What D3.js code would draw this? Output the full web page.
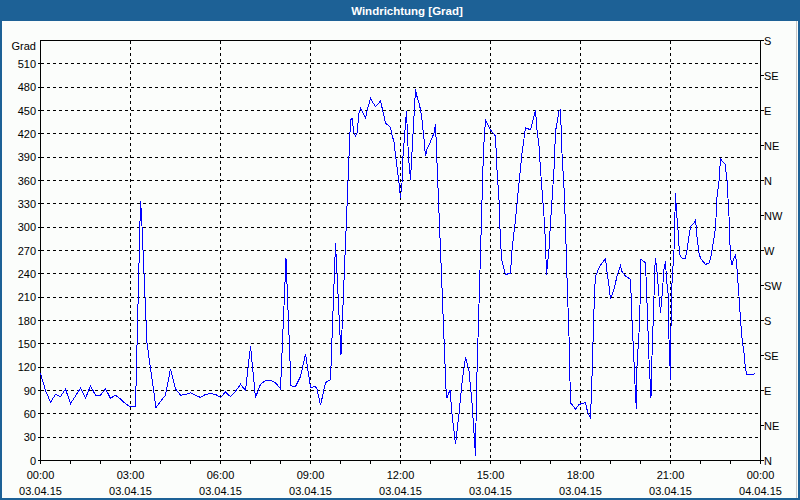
<!DOCTYPE html>
<html><head><meta charset="utf-8">
<script src="https://cdn.jsdelivr.net/npm/d3@7"></script>
<style>
html,body{margin:0;padding:0;background:#fff;}
svg{display:block;}
text{font-family:"Liberation Sans",Arial,sans-serif;font-size:11px;fill:#000;}
</style></head>
<body>
<svg id="chart" width="800" height="500"></svg>
<script>
const title = "Windrichtung [Grad]";
const yUnit = "Grad";
const minutes = [0,10,20,30,40,50,60,70,80,90,100,110,120,130,140,150,160,170,180,190,
200,202,213,231,240,250,260,270,280,290,300,310,320,330,340,350,360,370,380,390,
400,410,420,430,440,450,460,470,480,491,501,510,520,530,540,550,553,560,570,580,
590,601,620,623,627,630,633,637,640,650,653,660,663,670,677,680,687,690,697,700,
703,707,710,713,717,720,723,725,729,732,735,737,740,743,747,750,753,757,760,763,
767,770,773,780,787,790,811,813,819,823,830,837,843,850,857,863,870,872,879,886,
890,900,910,913,917,920,923,930,940,943,950,957,963,970,980,987,990,993,997,1000,
1007,1010,1012,1017,1020,1027,1030,1037,1040,1043,1047,1050,1053,1057,1060,1063,1070,1077,1087,1090,
1094,1100,1103,1108,1110,1113,1117,1123,1130,1133,1137,1140,1147,1153,1160,1163,1170,1180,1183,1188,
1190,1192,1193,1197,1199,1201,1210,1213,1217,1221,1223,1227,1228,1230,1233,1237,1240,1243,1247,1250,
1252,1255,1257,1260,1261,1263,1267,1270,1272,1275,1278,1283,1290,1293,1300,1307,1310,1313,1317,1320,
1330,1337,1340,1343,1347,1350,1353,1357,1360,1363,1369,1373,1377,1380,1383,1387,1390,1393,1397,1400,
1403,1407,1410,1413,1420,1427,1430];
const degrees = [112,90,75,85,82,92,73,83,93,80,96,84,84,92,80,84,79,73,69,69,
333,316,151,68,76,84,118,92,84,85,87,84,81,85,86,85,81,88,82,89,
98,90,147,81,98,103,103,100,92,260,96,95,108,137,94,95,92,71,100,104,
279,136,438,440,421,417,421,447,453,440,449,466,462,455,460,462,443,434,430,428,
419,409,393,378,357,338,357,391,425,449,404,383,361,396,443,477,468,460,451,438,
413,391,400,410,421,432,92,80,91,60,21,60,100,133,115,74,6,91,245,400,
438,425,417,374,335,280,256,239,241,271,310,357,395,428,425,443,451,425,404,374,
314,280,239,271,306,374,423,449,451,395,351,301,235,160,74,72,66,72,74,74,
63,54,108,216,237,241,248,254,259,243,224,208,220,237,250,243,237,233,181,113,
83,66,121,164,200,259,254,203,130,81,134,211,241,260,243,211,190,211,246,256,
233,216,156,104,173,228,271,344,320,297,265,260,260,271,301,305,310,288,267,260,
252,254,259,271,286,299,338,359,388,385,381,361,314,260,252,260,265,246,211,181,
158,138,117,110,110,111,113];
const yTicks = d3.range(0, 511, 30);
const compassTicks = [0,45,90,135,180,225,270,315,360,405,450,495,540];
const compassLabels = ["N","NE","E","SE","S","SW","W","NW","N","NE","E","SE","S"];
const timeTicks = [0,180,360,540,720,900,1080,1260,1440];
const timeLabels = ["00:00","03:00","06:00","09:00","12:00","15:00","18:00","21:00","00:00"];
const dateLabels = ["03.04.15","03.04.15","03.04.15","03.04.15","03.04.15","03.04.15","03.04.15","03.04.15","04.04.15"];

const svg = d3.select("#chart");
const L = 40.5, R = 760.5, T = 40.5, B = 460.5;
const x = d3.scaleLinear().domain([0,1440]).range([L,R]);
const y = d3.scaleLinear().domain([0,540]).range([B,T]);
const px = v => Math.round(v - 0.5) + 0.5;

svg.append("rect").attr("x",0).attr("y",0).attr("width",800).attr("height",500).attr("fill","#fbfdfb");
svg.append("rect").attr("x",0).attr("y",0).attr("width",800).attr("height",21).attr("fill","#1d6196");
svg.append("text").attr("x",407).attr("y",14.5).attr("text-anchor","middle")
  .style("font-weight","bold").style("font-size","11.5px").style("fill","#fff").text(title);

const grid = svg.append("g").attr("stroke","#000").attr("stroke-dasharray","3,3").attr("shape-rendering","crispEdges");
grid.selectAll("line.h").data(yTicks.filter(d=>d>0)).enter().append("line")
  .attr("x1",L).attr("x2",R).attr("y1",d=>px(y(d))).attr("y2",d=>px(y(d)));
grid.selectAll("line.v").data(timeTicks.filter(d=>d>0&&d<1440)).enter().append("line")
  .attr("y1",T).attr("y2",B).attr("x1",d=>px(x(d))).attr("x2",d=>px(x(d)));

const ax = svg.append("g").attr("stroke","#000").attr("shape-rendering","crispEdges").attr("fill","none");
ax.append("rect").attr("x",L).attr("y",T).attr("width",R-L).attr("height",B-T);
ax.selectAll("line.lt").data(yTicks).enter().append("line")
  .attr("x1",L-3).attr("x2",L).attr("y1",d=>px(y(d))).attr("y2",d=>px(y(d)));
ax.selectAll("line.rt").data(compassTicks).enter().append("line")
  .attr("x1",R).attr("x2",R+3).attr("y1",d=>px(y(d))).attr("y2",d=>px(y(d)));
ax.selectAll("line.bt").data(d3.range(0,1441,60)).enter().append("line")
  .attr("y1",B).attr("y2",B+3).attr("x1",d=>px(x(d))).attr("x2",d=>px(x(d)));

svg.selectAll("text.yl").data(yTicks).enter().append("text")
  .attr("x",36).attr("y",d=>y(d)+4).attr("text-anchor","end").text(d=>d);
svg.append("text").attr("x",36).attr("y",50).attr("text-anchor","end").text(yUnit);
svg.selectAll("text.rl").data(compassTicks).enter().append("text")
  .attr("x",764).attr("y",d=>y(d)+4).text((d,i)=>compassLabels[i]);
svg.selectAll("text.xl").data(timeTicks).enter().append("text")
  .attr("x",d=>x(d)).attr("y",479).attr("text-anchor","middle").text((d,i)=>timeLabels[i]);
svg.selectAll("text.dl").data(timeTicks).enter().append("text")
  .attr("x",d=>x(d)).attr("y",494.5).attr("text-anchor","middle").text((d,i)=>dateLabels[i]);

const data = minutes.map((m,i)=>[m,degrees[i]]);
svg.append("path").datum(data)
  .attr("d", d3.line().x(d=>x(d[0])).y(d=>y(d[1])))
  .attr("fill","none").attr("stroke","#0000ff").attr("stroke-width",1)
  .attr("shape-rendering","crispEdges");

svg.append("line").attr("x1",796.5).attr("x2",796.5).attr("y1",21).attr("y2",498).attr("stroke","#c8c8c8");
svg.append("rect").attr("x",1).attr("y",1).attr("width",798).attr("height",498)
  .attr("fill","none").attr("stroke","#1d6196").attr("stroke-width",2);
</script>
</body></html>
